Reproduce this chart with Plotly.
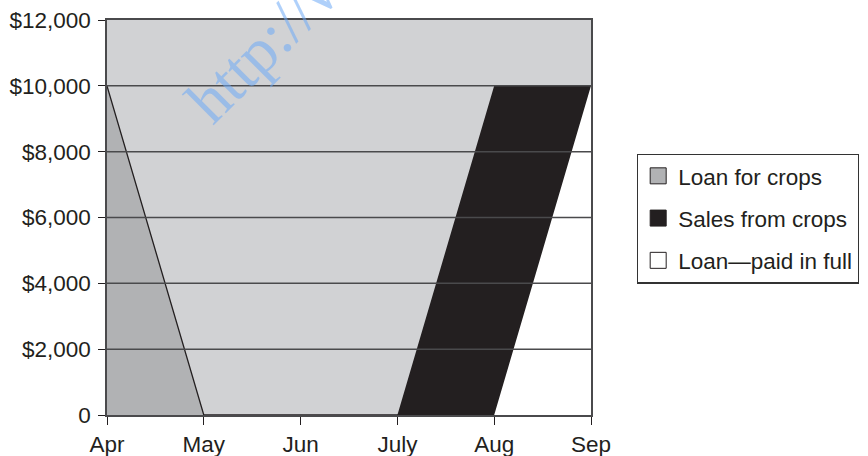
import plotly.graph_objects as go

# Monthly categories on the x axis
months = ["Apr", "May", "Jun", "July", "Aug", "Sep"]

# Dollar amounts per month for each area
loan_for_crops = [10000, 0, 0, 0, 0, 0]
sales_from_crops = [0, 0, 0, 0, 10000, 10000]
loan_paid_in_full = [0, 0, 0, 0, 0, 10000]

# Y-axis ticks
y_ticks = [0, 2000, 4000, 6000, 8000, 10000, 12000]
y_tick_labels = ["0", "$2,000", "$4,000", "$6,000", "$8,000", "$10,000", "$12,000"]

series_names = ["Loan for crops", "Sales from crops", "Loan\u2014paid in full"]
fill_colors = ["#b1b2b4", "#231f20", "#ffffff"]

FONT = "Liberation Sans, Arial, Helvetica, sans-serif"
INK = "#231f20"
GRID = "#4a4a4c"
FS = 22.5

fig = go.Figure()

# Filled areas (drawn to zero, later ones on top)
fig.add_trace(go.Scatter(
    x=months, y=loan_for_crops, mode="lines", fill="tozeroy",
    fillcolor=fill_colors[0], line=dict(color=INK, width=1.3),
    showlegend=False, hoverinfo="skip"))
fig.add_trace(go.Scatter(
    x=months, y=sales_from_crops, mode="lines", fill="tozeroy",
    fillcolor=fill_colors[1], line=dict(color=fill_colors[1], width=0),
    showlegend=False, hoverinfo="skip"))
fig.add_trace(go.Scatter(
    x=months, y=loan_paid_in_full, mode="lines", fill="tozeroy",
    fillcolor=fill_colors[2], line=dict(color=fill_colors[2], width=0),
    showlegend=False, hoverinfo="skip"))

# Legend entries with square swatches
for i, (name, col) in enumerate(zip(series_names, fill_colors)):
    fig.add_trace(go.Scatter(
        x=[None], y=[None], mode="markers", name=name,
        legendgroup=f"g{i}",
        marker=dict(symbol="square", size=16, color=col,
                    line=dict(color=INK, width=1))))

# Horizontal gridlines drawn above the filled areas
for v in y_ticks[1:-1]:
    fig.add_shape(type="line", xref="paper", yref="y", x0=0, x1=1, y0=v, y1=v,
                  line=dict(color=GRID, width=1.5), layer="above")

# Watermark text
fig.add_annotation(
    text="http://w", xref="paper", yref="paper", x=0.3326, y=0.949,
    xanchor="center", yanchor="middle", textangle=-45, showarrow=False,
    font=dict(family="Liberation Serif, Times New Roman, serif", size=64,
              color="rgba(110,170,245,0.55)"))

fig.update_layout(
    width=868, height=456,
    margin=dict(l=107, r=277, t=20, b=41, autoexpand=False),
    paper_bgcolor="white", plot_bgcolor="#d1d2d4",
    font=dict(family=FONT, size=FS, color=INK),
    legend=dict(
        x=1.095, y=0.662, xanchor="left", yanchor="top",
        bgcolor="white", bordercolor="#333333", borderwidth=1.2,
        tracegroupgap=10, font=dict(family=FONT, size=FS, color=INK)),
)

fig.update_xaxes(
    type="category", range=[0, 5], showgrid=False, automargin=False,
    showline=True, linecolor=GRID, linewidth=1.5, mirror=True,
    ticks="outside", ticklen=8, tickwidth=1.3, tickcolor=INK,
    tickfont=dict(family=FONT, size=FS, color=INK), zeroline=False)

fig.update_yaxes(
    range=[0, 12000], tickvals=y_ticks, ticktext=y_tick_labels,
    showgrid=False, zeroline=False, automargin=False,
    showline=True, linecolor=GRID, linewidth=1.5, mirror=True,
    ticks="outside", ticklen=7, tickwidth=1.3, tickcolor=INK,
    ticklabelstandoff=3,
    tickfont=dict(family=FONT, size=FS, color=INK))

fig.write_html("out.html")
